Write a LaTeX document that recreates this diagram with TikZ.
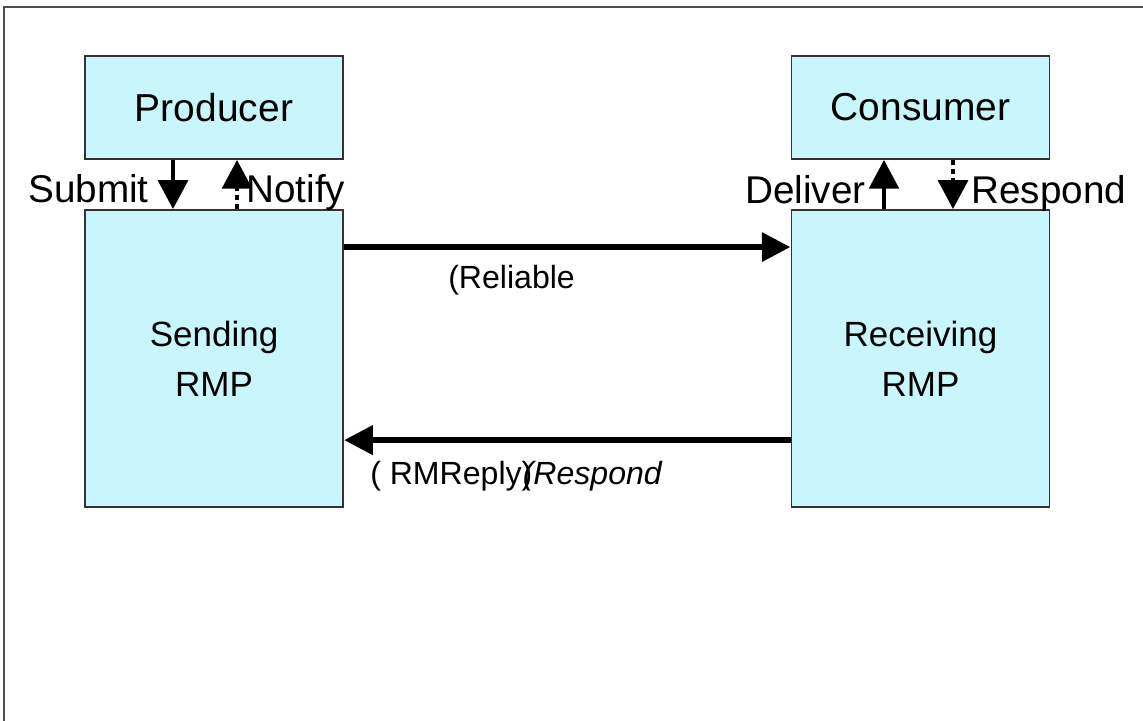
\documentclass[tikz,border=0pt]{standalone}
\usepackage{fontspec}
\setmainfont{Liberation Sans}
\usetikzlibrary{arrows.meta,positioning}
\definecolor{rmpcyan}{RGB}{200,246,252}

\begin{document}
\begin{tikzpicture}[x=0.025cm, y=-0.025cm,
    main/.style = {draw=black!80, fill=rmpcyan, line width=1.3pt, minimum width=6.45cm, align=center},
    small/.style = {minimum height=2.575cm, font=\fontsize{27.7}{30}\selectfont},
    tall/.style = {minimum height=7.425cm, font=\fontsize{24.9}{35.6}\selectfont},
    lbl/.style = {font=\fontsize{27.5}{30}\selectfont, inner sep=0pt},
    msg/.style = {font=\fontsize{22.8}{26}\selectfont, inner sep=0pt},
    op/.style = {line width=2.9pt, -{Triangle[length=0.72cm, width=0.74cm]}},
    opdash/.style = {op, dash pattern=on 0.13cm off 0.1cm},
    wire/.style = {line width=4.8pt, -{Triangle[length=0.72cm, width=0.7cm]}}]
                  \useasboundingbox (0,0) rectangle (1143,721);
                  \draw[black!70, line width=1.4pt] (1143,7) -- (4,7) -- (4,721);
                  \node[main, small] (prod) at (214,107.5) {Producer};
                  \node[main, tall] (send) at (214,358.5) {Sending\\RMP};
                  \node[main, small] (cons) at (920.5,107.5) {Consumer};
                  \node[main, tall] (recv) at (920.5,358.5) {Receiving\\RMP};
                  \draw[op] ([xshift=-1.025cm]prod.south) -- ([xshift=-1.025cm]send.north);
                  \draw[opdash] ([xshift=0.575cm]send.north) -- ([xshift=0.575cm]prod.south);
                  \draw[op] ([xshift=-0.9125cm]recv.north) -- ([xshift=-0.9125cm]cons.south);
                  \draw[opdash] ([xshift=0.8125cm]cons.south) -- ([xshift=0.8125cm]recv.north);
                  \node[lbl, anchor=base east] (submit) at (149,203) {Submit};
                  \node[lbl, anchor=base west] (notify) at (246,203) {Notify};
                  \node[lbl, anchor=base east] (deliver) at (866,204) {Deliver};
                  \node[lbl, anchor=base west] (respond) at (971,204) {Respond};
                  \draw[wire] ([yshift=-0.95cm]send.north east) -- ([yshift=-0.95cm]recv.north west);
                  \draw[wire] ([yshift=-5.775cm]recv.north west) -- ([yshift=-5.775cm]send.north east);
                  \node[msg, anchor=base west] (rel) at (448,289) {(Reliable};
                  \node[msg, anchor=base west] (reply) at (370,484) {( RMReply)\kern-0.3em\textit{(Respond}};
              \end{tikzpicture}
\end{document}
